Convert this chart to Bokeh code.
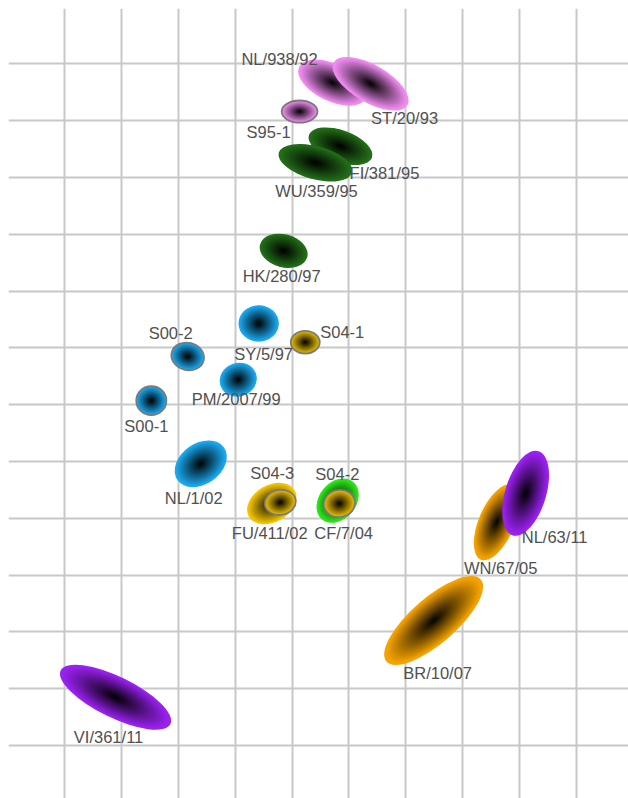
from bokeh.plotting import figure
from bokeh.models import ColumnDataSource, FixedTicker, Range1d
from bokeh.core.properties import value
from bokeh.embed import file_html
from bokeh.resources import INLINE

# ---- data (map units) ----
names = ["NL/938/92", "ST/20/93", "S95-1", "FI/381/95", "WU/359/95", "HK/280/97",
         "SY/5/97", "S04-1", "S00-2", "PM/2007/99", "S00-1", "NL/1/02",
         "FU/411/02", "S04-3", "CF/7/04", "S04-2", "WN/67/05", "NL/63/11",
         "BR/10/07", "VI/361/11"]
xs = [4.71, 5.38, 4.13, 4.85, 4.41, 3.85, 3.41, 4.23, 2.16, 3.05, 1.52, 2.39,
      3.64, 3.79, 4.80, 4.83, 7.60, 8.11, 6.49, 0.89]
ys = [11.67, 11.65, 11.16, 10.55, 10.26, 8.71, 7.43, 7.10, 6.85, 6.44, 6.07, 4.96,
      4.26, 4.28, 4.31, 4.26, 3.93, 4.44, 2.20, 0.85]
majors = [1.30, 1.50, 0.63, 1.18, 1.34, 0.86, 0.71, 0.51, 0.58, 0.66, 0.53, 1.00,
          0.93, 0.55, 0.86, 0.55, 1.43, 1.55, 2.20, 2.15]
minors = [0.66, 0.66, 0.39, 0.56, 0.58, 0.58, 0.64, 0.40, 0.48, 0.59, 0.51, 0.72,
          0.65, 0.44, 0.65, 0.48, 0.63, 0.72, 0.80, 0.72]
angles = [-25, -30, 0, -20, -15, -15, 0, 0, -15, 20, 0, 35,
          30, 10, 50, 10, 67, 73, 41, -26]
is_serum = [False, False, True, False, False, False, False, True, True, False, True, False,
            False, True, False, True, False, False, False, False]
colors = ["#ef8cef", "#ef8cef", "#ef8cef", "#246e1a", "#246e1a", "#246e1a",
          "#1ca8ee", "#e0b800", "#1ca8ee", "#1ca8ee", "#1ca8ee", "#1ca8ee",
          "#f2c400", "#e8bc00", "#2ee41a", "#e8bc00", "#f5a300", "#9a22f0",
          "#f5a300", "#9a22f0"]
# label placement relative to each point (screen px)
label_dx = [-53, 34, -31, 44, 1, -2, 5, 37, -17, -2, -5, -7, -2, -8, 6, -2, 4, 29, 4, -7]
label_dy = [-24, 34, 20, 27, 28, 25, 31, -10, -23, 19, 25, 34, 29, -29, 32, -30, 46, 44, 52, 40]

grid_x = list(range(0, 10))
grid_y = list(range(0, 13))

# ---- figure ----
p = figure(width=628, height=798, output_backend="svg", toolbar_location=None,
           x_range=Range1d(-0.9947, 9.921), y_range=Range1d(-0.933, 12.975),
           min_border_left=8, min_border_top=8, min_border_right=0, min_border_bottom=0,
           outline_line_color=None, background_fill_color="white")
p.xaxis.visible = False
p.yaxis.visible = False
p.xgrid.ticker = FixedTicker(ticks=grid_x)
p.ygrid.ticker = FixedTicker(ticks=grid_y)
for g in (p.xgrid, p.ygrid):
    g.grid_line_color = "#c8c8c8"
    g.grid_line_width = 2


def hex_to_rgb(h):
    h = h.lstrip("#")
    return tuple(int(h[i:i + 2], 16) for i in (0, 2, 4))


N = 32
for i in range(len(names)):
    r, g, b = hex_to_rgb(colors[i])
    lx, ly, lw, lh, lc = [], [], [], [], []
    for k in range(N):
        s = 1.0 - k / N
        f = min(1.0, s / 0.96)
        lx.append(xs[i]); ly.append(ys[i])
        lw.append(majors[i] * s); lh.append(minors[i] * s)
        lc.append("#%02x%02x%02x" % (int(r * f), int(g * f), int(b * f)))
    src = ColumnDataSource(dict(x=lx, y=ly, w=lw, h=lh, c=lc))
    p.ellipse(x="x", y="y", width="w", height="h", angle=angles[i], angle_units="deg",
              source=src, fill_color="c", line_color=None)
    if is_serum[i]:
        p.ellipse(x=xs[i], y=ys[i], width=majors[i], height=minors[i], angle=angles[i],
                  angle_units="deg", fill_color=None, line_color="#7a7a7a", line_width=1.8)

lab = ColumnDataSource(dict(x=xs, y=ys, t=names, dx=label_dx, dy=label_dy))
p.text(x="x", y="y", text="t", x_offset="dx", y_offset="dy", source=lab,
       text_align="center", text_baseline="middle", text_color="#505050",
       text_font=value("Liberation Sans"), text_font_size="16.5px")

open("out.html", "w").write(file_html(p, INLINE))
